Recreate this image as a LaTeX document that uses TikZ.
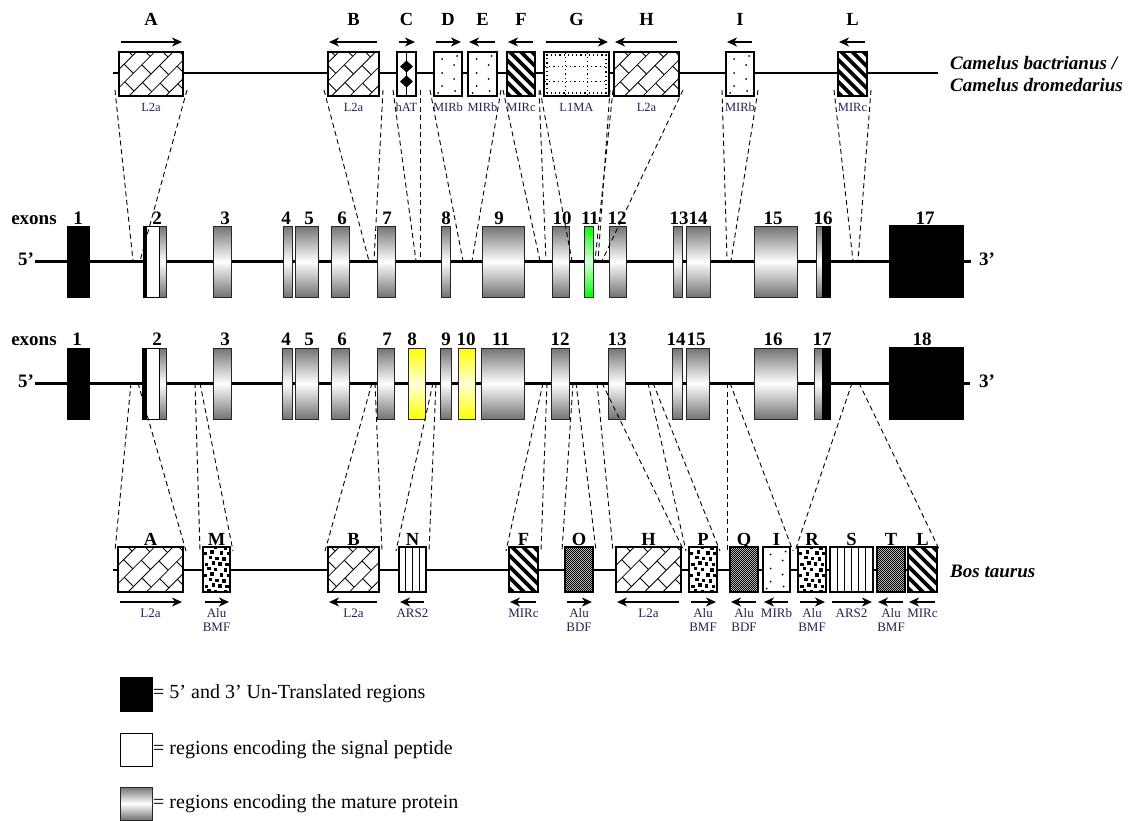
\documentclass[tikz,border=0pt]{standalone}
\usepackage{fontspec}
\setmainfont{Liberation Serif}
\usetikzlibrary{arrows.meta,patterns}
\definecolor{labcol}{RGB}{35,35,80}
\pgfdeclarepatternformonly{finecheck}{\pgfpointorigin}{\pgfqpoint{2.4pt}{2.4pt}}{\pgfqpoint{2.4pt}{2.4pt}}{\pgfpathrectangle{\pgfpointorigin}{\pgfqpoint{1.3pt}{1.3pt}}\pgfpathrectangle{\pgfqpoint{1.2pt}{1.2pt}}{\pgfqpoint{1.3pt}{1.3pt}}\pgfusepath{fill}}
\newcommand\mybox[6]{\node[#1, anchor=north west, minimum width={(#5-#3)*1pt}, minimum height={(#6-#4)*1pt}] (#2) at (#3,#4) {};}
\newcommand\toparrR[1]{\draw[arr] ([shift={(2,-10)}]#1.north west) -- ([shift={(-1,-10)}]#1.north east);}
\newcommand\toparrL[1]{\draw[arr] ([shift={(-2,-10)}]#1.north east) -- ([shift={(1,-10)}]#1.north west);}
\newcommand\botarrR[1]{\draw[arr] ([shift={(2,10)}]#1.south west) -- ([shift={(-1,10)}]#1.south east);}
\newcommand\botarrL[1]{\draw[arr] ([shift={(-2,10)}]#1.south east) -- ([shift={(1,10)}]#1.south west);}
\newcommand\toplab[3]{\path (#1.north) ++(0,-26) node[lettr,anchor=base] (#1t) {#2}; \path (#1.south) ++(0,16) node[smalltop,anchor=base] (#1l) {#3};}
\newcommand\botlab[3]{\path (#1.north) ++(0,-2) node[lettr,anchor=base] (#1t) {#2}; \path (#1.south) ++(0,25) node[smallbot,anchor=base] (#1l) {\begin{tabular}[t]{@{}c@{}}#3\end{tabular}};}
\newcommand\topdash[3]{\draw[dsh] ([shift={(-4,-6)}]#1.south west) -- (#3); \draw[dsh] ([shift={(4,-6)}]#2.south east) -- (#3b);}
\begin{document}
\begin{tikzpicture}[x=1pt,y=-1pt,
  base/.style={inner sep=0pt, outer sep=0pt},
  exon/.style={base, draw=black!85, line width=1pt, top color=black!55, bottom color=black!55, middle color=white},
  yex/.style={exon, top color=yellow, bottom color=yellow, middle color=yellow!15},
  gex/.style={exon, top color=green, bottom color=green, middle color=green!15},
  utr/.style={base, draw=black, line width=1pt, fill=black},
  sig/.style={base, draw=black, line width=1pt, fill=white},
  rep/.style={base, draw=black, line width=1.5pt, fill=white},
  l2a/.style={rep, path picture={
    \begin{scope}[shift={(path picture bounding box.center)}, x={(0.7071pt,0.7071pt)}, y={(-0.7071pt,0.7071pt)}, line width=0.85pt]
      \foreach \k in {-6,...,6}{
        \draw[black] (-70,\k*13) -- (70,\k*13);
        \foreach \j in {-3,...,3}{\draw[black] ({\j*24+mod(\k+20,2)*12},\k*13) -- ++(0,13);}
      }
    \end{scope}}},
  mirc/.style={rep, path picture={
    \foreach \i in {-8,...,8}{\draw[black, line width=3.6pt] ([xshift=\i*11pt]path picture bounding box.center) ++(-40pt,40pt) -- ++(80pt,-80pt);}}},
  mirb/.style={rep, path picture={
    \foreach \p in {(-6,-15),(6,-9),(-6,-1),(6,5),(-6,12),(7,17),(9,-18),(-10,19)}{\fill[black] ([shift={\p}]path picture bounding box.center) circle (1pt);}}},
  hat/.style={rep, path picture={
    \draw[black, line width=0.8pt] (path picture bounding box.north) -- (path picture bounding box.south);
    \fill[black] ([yshift=7.5pt]path picture bounding box.center) +(0,6pt) -- +(6.5pt,0) -- +(0,-6pt) -- +(-6.5pt,0) -- cycle;
    \fill[black] ([yshift=-7.5pt]path picture bounding box.center) +(0,6pt) -- +(6.5pt,0) -- +(0,-6pt) -- +(-6.5pt,0) -- cycle;}},
  l1ma/.style={rep, path picture={
    \begin{scope}[shift={(path picture bounding box.center)}, x=1pt, y=1pt, line width=1.2pt, dash pattern=on 1.2pt off 3pt]
      \draw[black] (-40,7.5) -- (40,7.5); \draw[black] (-40,-7.5) -- (40,-7.5);
      \draw[black] (-11,-30) -- (-11,30); \draw[black] (11,-30) -- (11,30);
      \draw[black] (-29.5,-19) rectangle (29.5,19);
    \end{scope}}},
  alubmf/.style={rep, path picture={
    \begin{scope}[shift={(path picture bounding box.center)}, x=1pt, y=1pt]
      \foreach \j in {-4,...,4}{\foreach \i in {-3,...,3}{
        \pgfmathsetmacro\xx{\i*7.5+mod(\j+10,2)*3.7+mod(\i*3+\j*5+40,4)*0.7-2.5}
        \pgfmathsetmacro\yy{\j*5.5+mod(\i*5+\j*3+40,3)*0.8-2.3}
        \fill[black] (\xx,\yy) rectangle ++(3.4,3.4);}}
    \end{scope}}},
  alubdf/.style={rep, preaction={fill=white}, pattern=finecheck, pattern color=black},
  ars/.style={rep, path picture={
    \foreach \i in {-4,...,4}{\draw[black, line width=1.1pt] ([xshift=\i*7pt]path picture bounding box.north) -- ([xshift=\i*7pt]path picture bounding box.south);}}},
  arr/.style={line width=1.7pt, -{Stealth[length=10pt,width=9pt,inset=3pt]}},
  dsh/.style={line width=0.9pt, dash pattern=on 5pt off 3.5pt},
  lettr/.style={font=\bfseries\fontsize{18.5}{20}\selectfont, inner sep=0pt},
  num/.style={font=\bfseries\fontsize{19}{20}\selectfont, inner sep=0pt, anchor=base},
  smalltop/.style={font=\fontsize{12.5}{14}\selectfont, inner sep=0pt, text=labcol},
  smallbot/.style={font=\fontsize{13}{14.5}\selectfont, inner sep=0pt, text=labcol},
  spec/.style={font=\bfseries\itshape\fontsize{19}{22}\selectfont, inner sep=0pt, anchor=west, align=left},
  leg/.style={font=\fontsize{20}{22}\selectfont, inner sep=0pt, anchor=west},
  thin/.style={line width=1.4pt},
  thick/.style={line width=3pt}
]
\useasboundingbox (0,0) rectangle (1129,821);

% ---------------- top row: camel ----------------
\coordinate (t0) at (113,73); \coordinate (t1) at (938,73);
\draw[thin] (t0) -- (t1);
\mybox{l2a}{cA}{119}{52}{183}{96}
\mybox{l2a}{cB}{328}{52}{379}{96}
\mybox{hat}{cC}{397}{52}{416}{96}
\mybox{mirb}{cD}{434}{52}{462}{96}
\mybox{mirb}{cE}{468}{52}{497}{96}
\mybox{mirc}{cF}{507}{52}{535}{96}
\mybox{l1ma}{cG}{544}{52}{609}{96}
\mybox{l2a}{cH}{614}{52}{679}{96}
\mybox{mirb}{cI}{726}{52}{754}{96}
\mybox{mirc}{cL}{838}{52}{867}{96}
\toplab{cA}{A}{L2a}\toparrR{cA}
\toplab{cB}{B}{L2a}\toparrL{cB}
\toplab{cC}{C}{hAT}\toparrR{cC}
\toplab{cD}{D}{MIRb}\toparrR{cD}
\toplab{cE}{E}{MIRb}\toparrL{cE}
\toplab{cF}{F}{MIRc}\toparrL{cF}
\toplab{cG}{G}{L1MA}\toparrR{cG}
\toplab{cH}{H}{L2a}\toparrL{cH}
\toplab{cI}{I}{MIRb}\toparrL{cI}
\toplab{cL}{L}{MIRc}\toparrL{cL}
\node[spec] (camel) at (950,74) {Camelus bactrianus /\\Camelus dromedarius};

% ---------------- exon row 1 ----------------
\coordinate (a0) at (35,261); \coordinate (a1) at (971,261);
\draw[thick] (a0) -- (a1);
\node[num] (ex1) at (34,224) {exons};
\node[num] (p5a) at (26,265) {5’};
\node[num] (p3a) at (987,265) {3’};
\mybox{utr}{e1}{67}{226}{89}{297}
\mybox{exon}{e2}{143}{226}{166}{297}
\mybox{sig}{e2w}{146}{226}{159}{297}
\mybox{utr}{e2b}{143}{226}{146}{297}
\mybox{exon}{e3}{213}{226}{231}{297}
\mybox{exon}{e4}{283}{226}{292}{297}
\mybox{exon}{e5}{295}{226}{318}{297}
\mybox{exon}{e6}{331}{226}{349}{297}
\mybox{exon}{e7}{377}{226}{395}{297}
\mybox{exon}{e8}{441}{226}{450}{297}
\mybox{exon}{e9}{482}{226}{524}{297}
\mybox{exon}{e10}{552}{226}{569}{297}
\mybox{gex}{e11}{584}{226}{593}{297}
\mybox{exon}{e12}{609}{226}{626}{297}
\mybox{exon}{e13}{673}{226}{682}{297}
\mybox{exon}{e14}{686}{226}{710}{297}
\mybox{exon}{e15}{754}{226}{797}{297}
\mybox{exon}{e16}{816}{226}{830}{297}
\mybox{utr}{e16b}{822}{226}{830}{297}
\mybox{utr}{e17}{889}{225}{963}{297}
\foreach \n/\x in {1/78,2/157,3/225,4/286,5/309,6/342,7/387,8/446,9/499,10/562,11/590,12/617,13/679,14/698,15/773,16/823,17/925}
  {\node[num] (na\n) at (\x,224) {\n};}

% ---------------- exon row 2 ----------------
\coordinate (b0) at (35,383); \coordinate (b1) at (970,383);
\draw[thick] (b0) -- (b1);
\node[num] (ex2) at (34,345) {exons};
\node[num] (p5b) at (26,387) {5’};
\node[num] (p3b) at (987,387) {3’};
\mybox{utr}{f1}{67}{348}{89}{419}
\mybox{exon}{f2}{142}{348}{166}{419}
\mybox{sig}{f2w}{146}{348}{159}{419}
\mybox{utr}{f2b}{142}{348}{146}{419}
\mybox{exon}{f3}{213}{348}{231}{419}
\mybox{exon}{f4}{282}{348}{292}{419}
\mybox{exon}{f5}{295}{348}{318}{419}
\mybox{exon}{f6}{331}{348}{349}{419}
\mybox{exon}{f7}{377}{348}{394}{419}
\mybox{yex}{f8}{408}{348}{425}{419}
\mybox{exon}{f9}{440}{348}{451}{419}
\mybox{yex}{f10}{458}{348}{475}{419}
\mybox{exon}{f11}{481}{348}{524}{419}
\mybox{exon}{f12}{551}{348}{569}{419}
\mybox{exon}{f13}{608}{348}{625}{419}
\mybox{exon}{f14}{672}{348}{682}{419}
\mybox{exon}{f15}{686}{348}{709}{419}
\mybox{exon}{f16}{754}{348}{797}{419}
\mybox{exon}{f17}{814}{348}{830}{419}
\mybox{utr}{f17b}{822}{348}{830}{419}
\mybox{utr}{f18}{889}{347}{963}{419}
\foreach \n/\x in {1/77,2/157,3/225,4/286,5/309,6/342,7/387,8/412,9/446,10/466,11/501,12/560,13/617,14/676,15/696,16/773,17/822,18/922}
  {\node[num] (nb\n) at (\x,345) {\n};}

% ---------------- bottom row: Bos taurus ----------------
\coordinate (s0) at (113,570); \coordinate (s1) at (938,570);
\draw[thin] (s0) -- (s1);
\mybox{l2a}{bA}{118}{547}{183}{592}
\mybox{alubmf}{bM}{203}{547}{230}{592}
\mybox{l2a}{bB}{328}{547}{379}{592}
\mybox{ars}{bN}{399}{547}{426}{592}
\mybox{mirc}{bF}{509}{547}{538}{592}
\mybox{alubdf}{bO}{565}{547}{593}{592}
\mybox{l2a}{bH}{616}{547}{681}{592}
\mybox{alubmf}{bP}{689}{547}{717}{592}
\mybox{alubdf}{bQ}{730}{547}{758}{592}
\mybox{mirb}{bI}{763}{547}{790}{592}
\mybox{alubmf}{bR}{798}{547}{826}{592}
\mybox{ars}{bS}{830}{547}{873}{592}
\mybox{alubdf}{bT}{877}{547}{905}{592}
\mybox{mirc}{bL}{908}{547}{937}{592}
\botlab{bA}{A}{L2a}\botarrR{bA}
\botlab{bM}{M}{Alu\\BMF}\botarrR{bM}
\botlab{bB}{B}{L2a}\botarrL{bB}
\botlab{bN}{N}{ARS2}\botarrL{bN}
\botlab{bF}{F}{MIRc}\botarrL{bF}
\botlab{bO}{O}{Alu\\BDF}\botarrR{bO}
\botlab{bH}{H}{L2a}\botarrL{bH}
\botlab{bP}{P}{Alu\\BMF}\botarrR{bP}
\botlab{bQ}{Q}{Alu\\BDF}\botarrL{bQ}
\botlab{bI}{I}{MIRb}\botarrL{bI}
\botlab{bR}{R}{Alu\\BMF}\botarrR{bR}
\botlab{bS}{S}{ARS2}\botarrR{bS}
\botlab{bT}{T}{Alu\\BMF}\botarrL{bT}
\botlab{bL}{L}{MIRc}\botarrL{bL}
\node[spec] (bos) at (950,571) {Bos taurus};

% ---------------- dashed connectors, top ----------------
\foreach \nm/\xa/\xb in {A/133/140,B/369/374,C/416/420,D/463/472,F/540/546,G/572/595,H/598/602,I/727/731,L/853/858}
  {\coordinate (q\nm) at (\xa,261); \coordinate (q\nm b) at (\xb,261);}
\topdash{cA}{cA}{qA}
\topdash{cB}{cB}{qB}
\topdash{cC}{cC}{qC}
\topdash{cD}{cE}{qD}
\topdash{cF}{cF}{qF}
\topdash{cG}{cG}{qG}
\topdash{cH}{cH}{qH}
\topdash{cI}{cI}{qI}
\topdash{cL}{cL}{qL}

% ---------------- dashed connectors, bottom ----------------
\foreach \nm/\xa/\xb in {A/131/138,M/195/200,B/372/375,N/433/436,F/543/547,O/573/576,H/597/602,P/648/653,Q/727/730,R/852/859}
  {\coordinate (r\nm) at (\xa,383); \coordinate (r\nm b) at (\xb,383);}
\foreach \nm/\lft/\rgt in {A/bA/bA,M/bM/bM,B/bB/bB,N/bN/bN,F/bF/bF,O/bO/bO,H/bH/bH,P/bP/bP,Q/bQ/bI,R/bR/bL}
  {\draw[dsh] (r\nm) -- ([shift={(-3,4)}]\lft.north west);
   \draw[dsh] (r\nm b) -- ([shift={(3,4)}]\rgt.north east);}

% ---------------- legend ----------------
\mybox{utr}{k1}{120}{677}{152}{711}
\node[leg] (k1t) at (153,694) {= 5’ and 3’ Un-Translated regions};
\mybox{sig}{k2}{120}{733}{152}{766}
\node[leg] (k2t) at (153,750) {= regions encoding the signal peptide};
\mybox{exon}{k3}{120}{787}{152}{820}
\node[leg] (k3t) at (153,804) {= regions encoding the mature protein};
\end{tikzpicture}
\end{document}
